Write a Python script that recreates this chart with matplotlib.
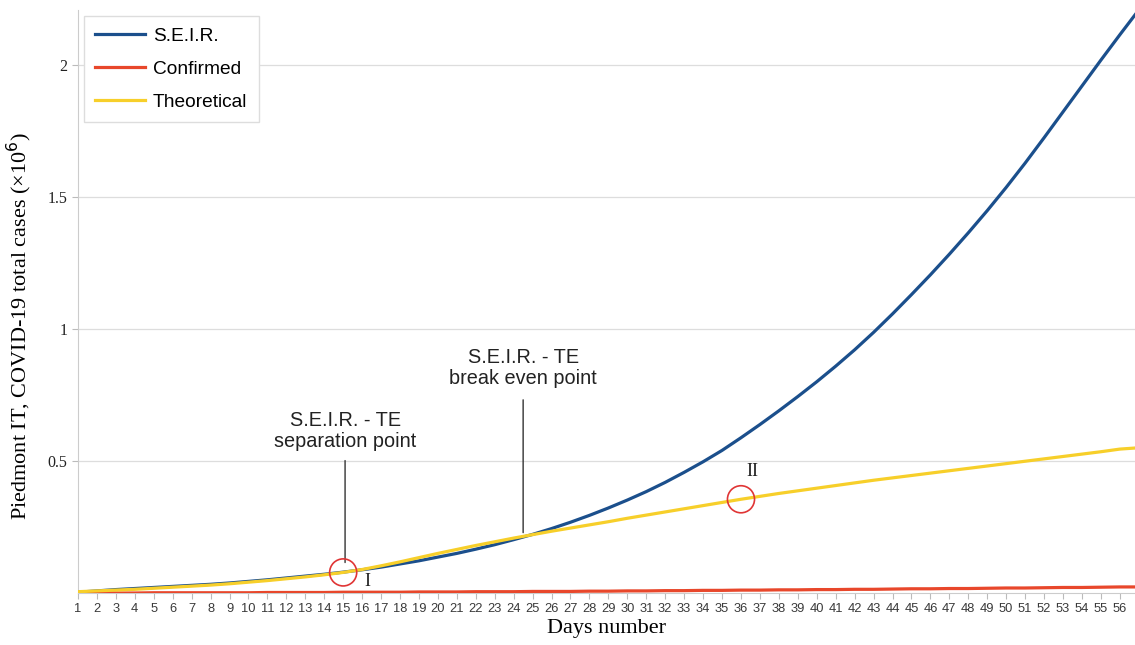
import numpy as np
import matplotlib
matplotlib.use("Agg")
import matplotlib.pyplot as plt

# values, millions of cases, days 1..57
days = np.arange(1, 58)
seir = [0.003, 0.008, 0.013, 0.017, 0.021, 0.025, 0.029, 0.033, 0.038, 0.044,
        0.050, 0.057, 0.064, 0.071, 0.079, 0.088, 0.098, 0.110, 0.122, 0.136,
        0.150, 0.166, 0.183, 0.202, 0.222, 0.244, 0.268, 0.294, 0.322, 0.352,
        0.384, 0.419, 0.457, 0.497, 0.540, 0.588, 0.638, 0.690, 0.744, 0.800,
        0.859, 0.921, 0.987, 1.057, 1.130, 1.205, 1.283, 1.364, 1.448, 1.536,
        1.628, 1.724, 1.822, 1.920, 2.018, 2.114, 2.208]
confirmed = [0.000, 0.000, 0.000, 0.000, 0.001, 0.001, 0.001, 0.001, 0.001, 0.001,
             0.002, 0.002, 0.002, 0.002, 0.003, 0.003, 0.003, 0.003, 0.004, 0.004,
             0.004, 0.005, 0.005, 0.005, 0.006, 0.006, 0.006, 0.007, 0.007, 0.008,
             0.008, 0.009, 0.009, 0.010, 0.010, 0.011, 0.011, 0.012, 0.012, 0.013,
             0.013, 0.014, 0.014, 0.015, 0.016, 0.016, 0.017, 0.017, 0.018, 0.019,
             0.019, 0.020, 0.021, 0.021, 0.022, 0.023, 0.023]
theoretical = [0.005, 0.008, 0.011, 0.014, 0.018, 0.022, 0.026, 0.030, 0.035, 0.041,
               0.047, 0.054, 0.061, 0.069, 0.078, 0.089, 0.103, 0.118, 0.134, 0.150,
               0.165, 0.180, 0.194, 0.208, 0.221, 0.234, 0.246, 0.258, 0.270, 0.283,
               0.295, 0.307, 0.319, 0.331, 0.343, 0.355, 0.366, 0.377, 0.387, 0.397,
               0.407, 0.417, 0.427, 0.436, 0.445, 0.454, 0.463, 0.472, 0.481, 0.490,
               0.499, 0.508, 0.517, 0.526, 0.535, 0.545, 0.550]
yticks = [0.5, 1, 1.5, 2]
ytick_labels = ["0.5", "1", "1.5", "2"]

fig = plt.figure(figsize=(11.35, 6.45), dpi=100)
ax = fig.add_axes([0.0687, 0.0806, 0.9313, 0.904])

ax.plot(days, seir, color='#1b4f8c', lw=2.3, label='S.E.I.R.', zorder=3)
ax.plot(days, confirmed, color='#e8472b', lw=2.3, label='Confirmed', zorder=3)
ax.plot(days, theoretical, color='#f7cf2a', lw=2.3, label='Theoretical', zorder=4)

ax.set_xlim(1, 56.8)
ax.set_ylim(0, 2.208)
ax.set_xticks(days[:56])
ax.set_xticklabels([str(d) for d in days[:56]], fontsize=9.3, color='#444444',
                   family='Liberation Sans')
ax.set_yticks(yticks)
ax.set_yticklabels(ytick_labels, fontsize=11.5, family='Liberation Serif')
ax.grid(axis='y', color='#dddddd', lw=0.9)
ax.set_axisbelow(True)
for s in ['top', 'right']:
    ax.spines[s].set_visible(False)
for s in ['left', 'bottom']:
    ax.spines[s].set_color('#cccccc')
ax.tick_params(axis='both', colors='#bbbbbb', length=4, width=0.8)
ax.tick_params(axis='x', labelcolor='#3a3a3a', pad=3)
ax.tick_params(axis='y', labelcolor='#222222')

ax.set_xlabel('Days number', fontsize=16, family='Liberation Serif', labelpad=3)
ax.set_ylabel('Piedmont IT, COVID-19 total cases (×10$^6$)', fontsize=16,
              family='Liberation Serif')
ax.yaxis.set_label_coords(-0.042, 0.458)

leg = ax.legend(loc='upper left', bbox_to_anchor=(0.0, 1.0), borderaxespad=0.3,
                prop={'family': 'Liberation Sans', 'size': 13.8},
                fancybox=False, edgecolor='#dddddd', framealpha=1,
                handlelength=2.6, handletextpad=0.4, labelspacing=0.82,
                borderpad=0.6)

# annotations
ax.annotate('', xy=(15.1, 0.105), xytext=(15.1, 0.512),
            arrowprops=dict(arrowstyle='-', color='#333333', lw=1))
ax.text(15.1, 0.614, 'S.E.I.R. - TE\nseparation point', ha='center', va='center',
        fontsize=14.3, family='Liberation Sans', color='#222222', linespacing=1.1)
ax.annotate('', xy=(24.5, 0.218), xytext=(24.5, 0.742),
            arrowprops=dict(arrowstyle='-', color='#333333', lw=1))
ax.text(24.5, 0.852, 'S.E.I.R. - TE\nbreak even point', ha='center', va='center',
        fontsize=14.3, family='Liberation Sans', color='#222222', linespacing=1.1)

ax.scatter([15, 36], [theoretical[14], theoretical[35]], s=380, facecolors='none',
           edgecolors='#e03535', linewidths=1.2, zorder=5)
ax.text(16.3, 0.045, 'I', ha='center', va='center', fontsize=13,
        family='Liberation Serif', color='#222222')
ax.text(36.6, 0.46, 'II', ha='center', va='center', fontsize=13,
        family='Liberation Serif', color='#222222')

fig.savefig('out.png', dpi=100)
